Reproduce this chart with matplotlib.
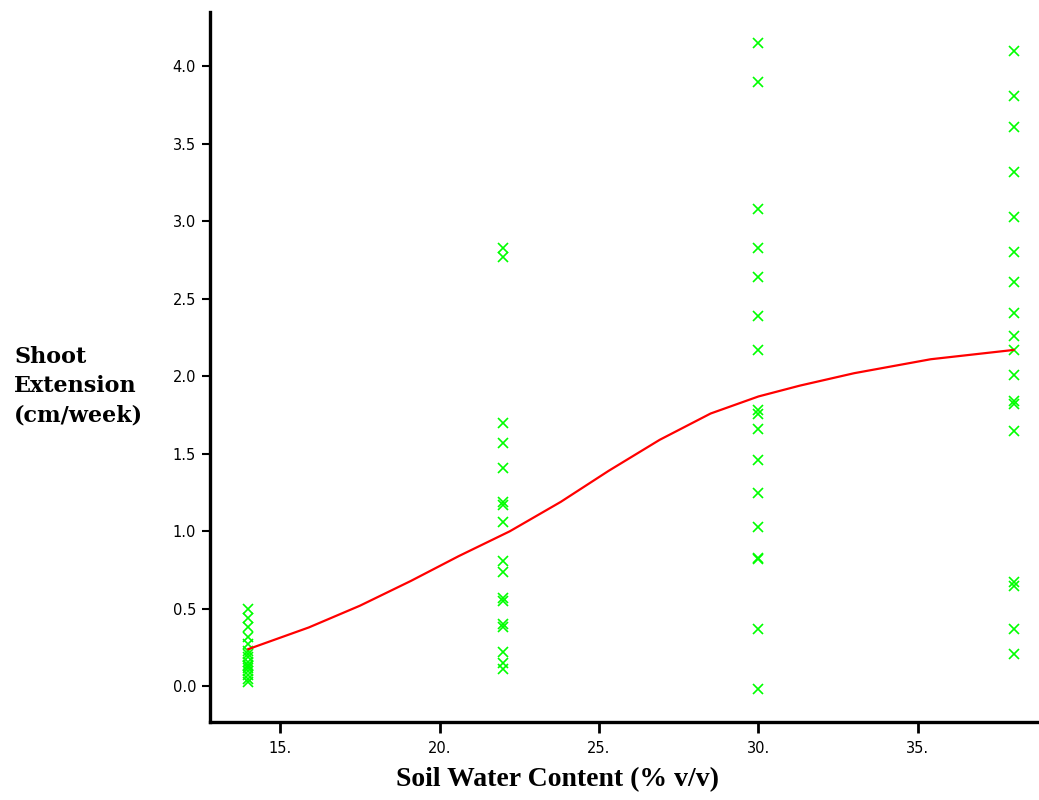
import matplotlib
matplotlib.use("Agg")
import matplotlib.pyplot as plt

# measured shoot extension (cm/week) at each soil water content (% v/v)
ext_14 = [0.50, 0.44, 0.38, 0.32, 0.27, 0.23, 0.21, 0.19, 0.16,
          0.14, 0.13, 0.12, 0.10, 0.07, 0.05, 0.03]
ext_22 = [2.83, 2.77, 1.70, 1.57, 1.41, 1.19, 1.17, 1.06, 0.81,
          0.74, 0.57, 0.55, 0.40, 0.38, 0.22, 0.15, 0.11]
ext_30 = [4.15, 3.90, 3.08, 2.83, 2.64, 2.39, 2.17, 1.78, 1.76,
          1.66, 1.46, 1.25, 1.03, 0.83, 0.82, 0.37, -0.02]
ext_38 = [4.10, 3.81, 3.61, 3.32, 3.03, 2.80, 2.61, 2.41, 2.26,
          2.17, 2.01, 1.84, 1.82, 1.65, 0.67, 0.65, 0.37, 0.21]
swc_levels = [14, 22, 30, 38]
ext_groups = [ext_14, ext_22, ext_30, ext_38]

# smoothed trend
fit_x = [14, 15.9, 17.5, 19.1, 20.6, 22.2, 23.8, 25.3, 26.9,
         28.5, 30.0, 31.3, 33.0, 35.4, 38]
fit_y = [0.24, 0.38, 0.52, 0.68, 0.84, 1.00, 1.19, 1.39, 1.59,
         1.76, 1.87, 1.94, 2.02, 2.11, 2.17]

xticks = [15, 20, 25, 30, 35]
yticks = [0.0, 0.5, 1.0, 1.5, 2.0, 2.5, 3.0, 3.5, 4.0]

fig = plt.figure(figsize=(10.39, 8.0), dpi=100)
ax = fig.add_axes([0.2021, 0.0975, 0.798, 0.8875])

green = "#00ff00"
for swc, ext in zip(swc_levels, ext_groups):
    ax.plot([swc] * len(ext), ext, linestyle="none", marker="x", markersize=6.5,
            markeredgewidth=1.2, color=green, zorder=2)

ax.plot(fit_x, fit_y, color="#ff0000", linewidth=1.6, zorder=3)

ax.set_xlim(12.8, 38.8)
ax.set_ylim(-0.23, 4.35)

for side in ["top", "right"]:
    ax.spines[side].set_visible(False)
for side in ["left", "bottom"]:
    ax.spines[side].set_linewidth(2.4)

ax.set_xticks(xticks)
ax.set_xticklabels(["%d." % t for t in xticks])
ax.set_yticks(yticks)
ax.set_yticklabels(["%.1f" % t for t in yticks])
ax.tick_params(direction="out", length=6, width=1.5, labelsize=10.5, pad=4,
               colors="black")
ax.tick_params(axis="x", length=8, width=2, pad=6)

fig.text(557 / 1039, 1 - 780 / 800, "Soil Water Content (% v/v)",
         family="Liberation Serif", fontweight="bold", fontsize=20,
         ha="center", va="center")
fig.text(0.0135, 1 - 346 / 800, "Shoot\nExtension\n(cm/week)", family="DejaVu Serif",
         fontweight="bold", fontsize=16, ha="left", va="top", linespacing=1.42)

fig.savefig("out.png", dpi=100)
